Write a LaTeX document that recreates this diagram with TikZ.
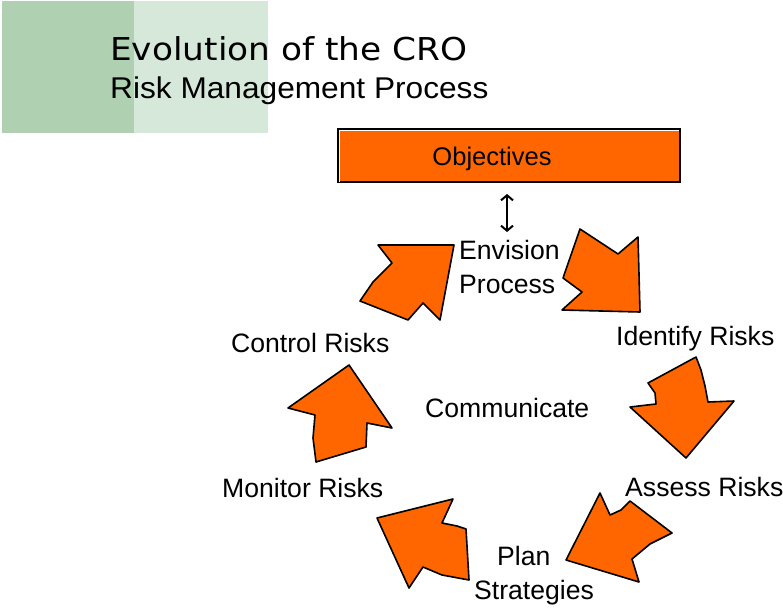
\documentclass[tikz,border=0pt]{standalone}
\usepackage{fontspec}
\setmainfont{Liberation Sans}
\newfontfamily\headfont{DejaVu Sans}
\usetikzlibrary{arrows.meta}
\definecolor{sagedark}{HTML}{B0D0B2}
\definecolor{sagelight}{HTML}{D6E8D9}
\definecolor{cyclorange}{HTML}{FF6600}
\tikzset{
  blockarrow/.style={fill=cyclorange, draw=black, line width=1.6pt, line join=round},
  steplabel/.style={anchor=base west, inner sep=0pt, font=\fontsize{26.6}{30}\selectfont},
  objbox/.style={fill=cyclorange, draw=black, line width=2pt, minimum width=342pt,
                 minimum height=53pt, inner sep=0pt},
}
\begin{document}
\begin{tikzpicture}[x=1pt,y=-1pt]
\useasboundingbox (0,0) rectangle (783,607);

% title band
\fill[sagedark] (2,1) rectangle (134,133);
\fill[sagelight] (134,1) rectangle (268,133);
\node[anchor=base west, inner sep=0pt, xscale=1.09, font=\headfont\fontsize{31.5}{36}\selectfont] (title1) at (110,61) {Evolution of the CRO};
\node[anchor=base west, inner sep=0pt, xscale=1.055, font=\fontsize{30}{36}\selectfont] (title2) at (110,99) {Risk Management Process};

% objectives box
\node[objbox] (obj) at (509,155.5) {};
\draw[white, line width=0.8pt] (339.5,182) -- (339.5,130) -- (679,130);
\node[font=\fontsize{25.5}{30}\selectfont, inner sep=0pt] (objlabel) at (492,159) {Objectives};

% link between objectives and the cycle
\coordinate (linktop) at (507,194);
\coordinate (linkbot) at (507,232);
\draw[{Straight Barb[length=5pt,width=12pt]}-{Straight Barb[length=5pt,width=12pt]}, line width=2pt] (linktop) -- (linkbot);

% the six arrows of the cycle
\draw[blockarrow] (454,245) -- (440,320) -- (423,303) -- (408,320) -- (360,301) -- (373,282) -- (392,263) -- (378,245) -- cycle;
\draw[blockarrow] (580,229) -- (618,254) -- (638,237) -- (640,312) -- (562,310) -- (582,292) -- (563,278) -- cycle;
\draw[blockarrow] (696,357) -- (701,370) -- (705,386) -- (708,402) -- (734,401) -- (686,458) -- (630,407) -- (656,404) -- (655,393) -- (648,383) -- cycle;
\draw[blockarrow] (600,493) -- (610,515) -- (621,510) -- (630,501) -- (672,533) -- (650,544) -- (632,559) -- (639,582) -- (566,560) -- cycle;
\draw[blockarrow] (453,499) -- (442,523) -- (457,526) -- (466,529) -- (469,580) -- (442,575) -- (423,567) -- (409,588) -- (377,518) -- cycle;
\draw[blockarrow] (349,365) -- (392,428) -- (367,423) -- (366,447) -- (316,462) -- (313,438) -- (315,415) -- (288,408) -- cycle;

% step labels
\node[steplabel] (env1) at (459,259) {Envision};
\node[steplabel] (env2) at (459,293) {Process};
\node[steplabel] (ident) at (616,345) {Identify Risks};
\node[steplabel] (assess) at (625,496) {Assess Risks};
\node[steplabel] (plan1) at (497,565) {Plan};
\node[steplabel] (plan2) at (474,599) {Strategies};
\node[steplabel] (monitor) at (222,497) {Monitor Risks};
\node[steplabel] (control) at (231,352) {Control Risks};
\node[steplabel] (comm) at (425,417) {Communicate};
\end{tikzpicture}
\end{document}
